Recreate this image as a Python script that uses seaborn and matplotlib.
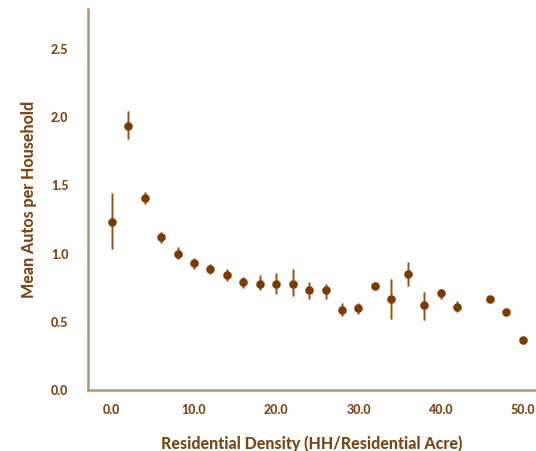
import numpy as np
import pandas as pd
import matplotlib
matplotlib.use("Agg")
import matplotlib.pyplot as plt
import seaborn as sns

# Residential density bins (HH per residential acre)
density = [0, 2, 4, 6, 8, 10, 12, 14, 16, 18, 20, 22, 24, 26, 28, 30,
           32, 34, 36, 38, 40, 42, 46, 48, 50]
mean_autos = [1.23, 1.93, 1.41, 1.12, 1.00, 0.93, 0.89, 0.84, 0.79, 0.78,
              0.78, 0.78, 0.73, 0.73, 0.59, 0.60, 0.76, 0.67, 0.85, 0.62,
              0.71, 0.61, 0.67, 0.57, 0.37]
ci_low = [1.03, 1.84, 1.36, 1.08, 0.96, 0.89, 0.85, 0.80, 0.75, 0.73,
          0.70, 0.69, 0.67, 0.67, 0.54, 0.56, np.nan, 0.52, 0.76, 0.51,
          0.67, 0.57, np.nan, np.nan, np.nan]
ci_high = [1.44, 2.04, 1.45, 1.16, 1.05, 0.97, 0.92, 0.89, 0.83, 0.84,
           0.86, 0.89, 0.79, 0.78, 0.64, 0.64, np.nan, 0.81, 0.94, 0.72,
           0.74, 0.65, np.nan, np.nan, np.nan]

x_ticks = [0, 10, 20, 30, 40, 50]
y_ticks = [0.0, 0.5, 1.0, 1.5, 2.0, 2.5]

df = pd.DataFrame({"density": density, "autos": mean_autos,
                   "low": ci_low, "high": ci_high})

TEXT = "#7b4716"
POINT = "#7a3c00"
SPINE = "#b8946f"

sns.set_style("white")
plt.rcParams["font.family"] = ["Lato", "DejaVu Sans"]

fig = plt.figure(figsize=(5.36, 4.51), dpi=100)
ax = fig.add_axes([0.164, 0.135, 0.836, 0.845])

# Confidence intervals: light tan band with darker core
bars = df.dropna()
ax.vlines(bars["density"], bars["low"], bars["high"], color="#c9a37c", lw=2.0, zorder=2)
ax.vlines(bars["density"], bars["low"], bars["high"], color="#8a5320", lw=0.7, zorder=2)

sns.scatterplot(data=df, x="density", y="autos", ax=ax, color=POINT,
                s=38, edgecolor=POINT, linewidth=0, zorder=3)

ax.set_xlim(-2.9, 51.6)
ax.set_ylim(0, 2.79)
ax.set_xticks(x_ticks)
ax.set_xticklabels([f"{t:.1f}" for t in x_ticks])
ax.set_yticks(y_ticks)
ax.set_yticklabels([f"{t:.1f}" for t in y_ticks])

for lbl in ax.get_xticklabels() + ax.get_yticklabels():
    lbl.set_fontweight("black")
    lbl.set_color(TEXT)
    lbl.set_fontsize(9)
ax.tick_params(axis="both", length=0)
ax.tick_params(axis="x", pad=10)
ax.tick_params(axis="y", pad=14)

ax.set_xlabel("Residential Density (HH/Residential Acre)", fontsize=11.5,
              fontweight="black", color=TEXT, labelpad=14)
ax.set_ylabel("Mean Autos per Household", fontsize=11.5,
              fontweight="black", color=TEXT, labelpad=10)

for side in ["top", "right"]:
    ax.spines[side].set_visible(False)
for side in ["left", "bottom"]:
    ax.spines[side].set_color(SPINE)
    ax.spines[side].set_linewidth(1.8)

fig.savefig("out.png", dpi=100)
